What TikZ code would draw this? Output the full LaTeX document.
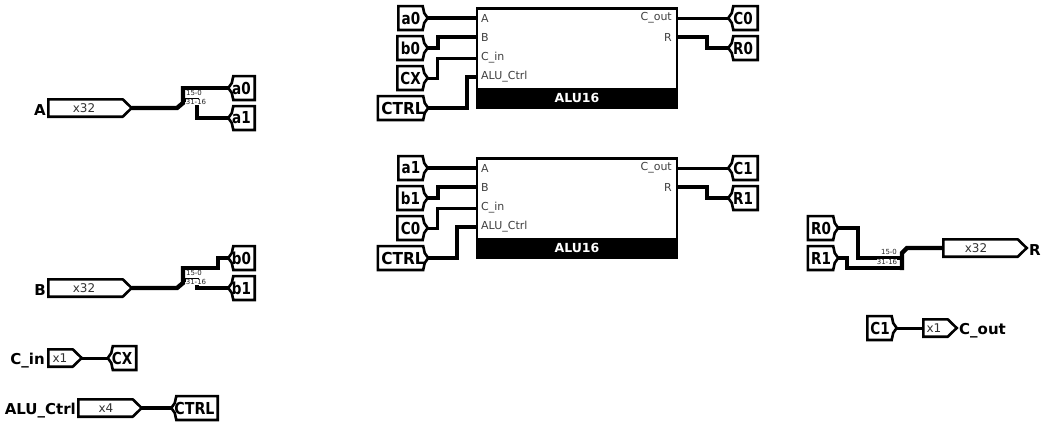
\documentclass[tikz,border=0pt]{standalone}
\usepackage{fontspec}
\setmainfont{DejaVu Sans}
\tikzset{
  x=1pt,y=1pt,
  outline/.style={draw=black,line width=2.6pt,line join=miter,fill=white},
  pinright/.style={append after command={\pgfextra{\draw[outline] (\tikzlastnode.north west) -- ([xshift=-#1]\tikzlastnode.north east) -- (\tikzlastnode.east) -- ([xshift=-#1]\tikzlastnode.south east) -- (\tikzlastnode.south west) -- cycle;}}},
  tunnelright/.style={append after command={\pgfextra{\draw[outline] (\tikzlastnode.north west) -- ([xshift=-5pt]\tikzlastnode.north east) -- ([xshift=-3.5pt,yshift=5pt]\tikzlastnode.east) -- (\tikzlastnode.east) -- ([xshift=-3.5pt,yshift=-5pt]\tikzlastnode.east) -- ([xshift=-5pt]\tikzlastnode.south east) -- (\tikzlastnode.south west) -- cycle;}}},
  tunnelleft/.style={append after command={\pgfextra{\draw[outline] (\tikzlastnode.north east) -- ([xshift=5pt]\tikzlastnode.north west) -- ([xshift=3.5pt,yshift=5pt]\tikzlastnode.west) -- (\tikzlastnode.west) -- ([xshift=3.5pt,yshift=-5pt]\tikzlastnode.west) -- ([xshift=5pt]\tikzlastnode.south west) -- (\tikzlastnode.south east) -- cycle;}}},
  ltag/.style={tunnelleft,minimum height=23.5pt},
  rtag/.style={tunnelright,minimum height=23.5pt},
  pinshape/.style={pinright=9pt,minimum height=17pt},
  tagtext/.style={inner sep=0pt,font=\fontsize{16.5}{16}\bfseries},
  rtagtext/.style={tagtext,xshift=-2pt},
  wordtext/.style={inner sep=0pt,font=\fontsize{16.5}{16}\bfseries},
  pintext/.style={inner sep=0pt,font=\fontsize{12}{12}\selectfont,text=black!80},
  pinname/.style={inner sep=0pt,font=\fontsize{15}{15}\bfseries},
  alubox/.style={draw=black,line width=2.6pt,fill=white,minimum width=200pt,minimum height=99pt,inner sep=0pt},
  aluband/.style={fill=black,text=white,minimum width=201.5pt,minimum height=20pt,inner sep=0pt,font=\fontsize{12.5}{12}\bfseries},
  portl/.style={anchor=west,inner sep=0pt,font=\fontsize{11}{11}\selectfont,text=black!75},
  portr/.style={anchor=east,inner sep=0pt,font=\fontsize{11}{11}\selectfont,text=black!75},
  splitlab/.style={inner sep=0.2pt,fill=white,font=\fontsize{7}{7}\selectfont,text=black!85},
  thick wire/.style={draw=black,line width=4.4pt,line join=miter},
  thin wire/.style={draw=black,line width=3pt,line join=miter},
}
\newcommand{\nar}[1]{\scalebox{.82}[1]{#1}}
\newcommand{\wid}[1]{\scalebox{.93}[1]{#1}}
\newcommand{\tg}[6]{\node[#1,minimum width=#3] (#4) at #5 {}; \node[#2] at (#4) {#6};}
\begin{document}
\begin{tikzpicture}
\useasboundingbox (0,0) rectangle (1045,-426);

% ALU 0
\node[alubox] (u0) at (577,-58) {};
\node[aluband] (u0b) at (577,-98) {ALU16};
\node[portl] (u0A) at (481,-18) {A};
\node[portl] (u0B) at (481,-37) {B};
\node[portl] (u0C) at (481,-58) {C\_in};
\node[portl] (u0D) at (481,-77) {ALU\_Ctrl};
\node[portr] (u0O) at (672,-18) {C\_out};
\node[portr] (u0R) at (672,-37) {R};
\coordinate (u0pA) at (476,-18);
\coordinate (u0pB) at (476,-37);
\coordinate (u0pC) at (476,-58);
\coordinate (u0pD) at (476,-77);
\coordinate (u0pO) at (677,-18);
\coordinate (u0pR) at (677,-37);

% ALU 1
\node[alubox] (u1) at (577,-208) {};
\node[aluband] (u1b) at (577,-248) {ALU16};
\node[portl] (u1A) at (481,-168) {A};
\node[portl] (u1B) at (481,-187) {B};
\node[portl] (u1C) at (481,-208) {C\_in};
\node[portl] (u1D) at (481,-227) {ALU\_Ctrl};
\node[portr] (u1O) at (672,-168) {C\_out};
\node[portr] (u1R) at (672,-187) {R};
\coordinate (u1pA) at (476,-168);
\coordinate (u1pB) at (476,-187);
\coordinate (u1pC) at (476,-208);
\coordinate (u1pD) at (476,-227);
\coordinate (u1pO) at (677,-168);
\coordinate (u1pR) at (677,-187);

% tags on ALU inputs
\tg{rtag}{rtagtext}{29pt}{ta0}{(413,-18)}{\nar{a0}}
\tg{rtag}{rtagtext}{30pt}{tb0}{(412.5,-48)}{\nar{b0}}
\tg{rtag}{rtagtext}{30pt}{tcx}{(412.5,-78)}{\nar{CX}}
\tg{rtag}{wordtext}{50pt}{tct0}{(403,-108)}{\wid{CTRL}}
\tg{rtag}{rtagtext}{29pt}{ta1}{(413,-168)}{\nar{a1}}
\tg{rtag}{rtagtext}{30pt}{tb1}{(412.5,-198)}{\nar{b1}}
\tg{rtag}{rtagtext}{30pt}{tc0}{(412.5,-228)}{\nar{C0}}
\tg{rtag}{wordtext}{50pt}{tct1}{(403,-258)}{\wid{CTRL}}
% tags on ALU outputs
\tg{ltag}{tagtext}{29pt}{oc0}{(743,-18)}{\nar{C0}}
\tg{ltag}{tagtext}{29pt}{or0}{(743,-48)}{\nar{R0}}
\tg{ltag}{tagtext}{29pt}{oc1}{(743,-168)}{\nar{C1}}
\tg{ltag}{tagtext}{29pt}{or1}{(743,-198)}{\nar{R1}}

% A group
\node[pinshape,minimum width=83pt] (pA) at (90,-108) {};
\node[pintext] at (84,-108) {x32};
\node[pinname,anchor=east] (lA) at (46,-110) {A};
\tg{ltag}{tagtext}{26pt}{sa0}{(241.5,-88)}{\nar{a0}}
\tg{ltag}{tagtext}{26pt}{sa1}{(241.5,-118)}{\nar{a1}}
% B group
\node[pinshape,minimum width=83pt] (pB) at (90,-288) {};
\node[pintext] at (84,-288) {x32};
\node[pinname,anchor=east] (lB) at (46,-290) {B};
\tg{ltag}{tagtext}{26pt}{sb0}{(241.5,-258)}{\nar{b0}}
\tg{ltag}{tagtext}{26pt}{sb1}{(241.5,-288)}{\nar{b1}}
% C_in
\node[pinshape,minimum width=33pt] (pC) at (65,-358) {};
\node[pintext] at (60,-358) {x1};
\node[pinname,anchor=east] (lC) at (45,-361) {C\_in};
\tg{ltag}{tagtext}{28pt}{sx}{(122,-358)}{\nar{CX}}
% ALU_Ctrl
\node[pinshape,minimum width=63pt] (pD) at (110,-408) {};
\node[pintext] at (106,-408) {x4};
\node[pinname,anchor=east] (lD) at (76,-411) {ALU\_Ctrl};
\tg{ltag}{wordtext}{46pt}{sc}{(194.5,-408)}{\scalebox{.86}[1]{CTRL}}
% R group
\tg{rtag}{rtagtext}{30pt}{r0}{(823,-228)}{\nar{R0}}
\tg{rtag}{rtagtext}{30pt}{r1}{(823,-258)}{\nar{R1}}
\node[pinshape,minimum width=83pt] (pR) at (985,-248) {};
\node[pintext] at (976,-248) {x32};
\node[pinname,anchor=west] (lR) at (1029,-250) {R};
% C_out
\tg{rtag}{rtagtext}{29pt}{c1}{(882,-328)}{\nar{C1}}
\node[pinshape,minimum width=33pt] (pO) at (940,-328) {};
\node[pintext] at (934,-328) {x1};
\node[pinname,anchor=west] (lO) at (959,-331) {C\_out};

% wires ALU 0
\draw[thick wire] (ta0.east) -- (u0pA);
\draw[thick wire] (tb0.east) -- ++(10,0) |- (u0pB);
\draw[thin wire] (tcx.east) -- ++(10,0) |- (u0pC);
\draw[thick wire] (tct0.east) -- (467,-108) |- (u0pD);
\draw[thin wire] (u0pO) -- (oc0.west);
\draw[thick wire] (u0pR) -- (707,-37) |- (or0.west);
% wires ALU 1
\draw[thick wire] (ta1.east) -- (u1pA);
\draw[thick wire] (tb1.east) -- ++(10,0) |- (u1pB);
\draw[thin wire] (tc0.east) -- ++(10,0) |- (u1pC);
\draw[thick wire] (tct1.east) -- (457,-258) |- (u1pD);
\draw[thin wire] (u1pO) -- (oc1.west);
\draw[thick wire] (u1pR) -- (707,-187) |- (or1.west);

% splitter A
\coordinate (jA) at (183,-103);
\draw[thick wire] (pA.east) -- (177,-108) -- (jA) -- (183,-86);
\draw[thick wire] (181,-88) -- (sa0.west);
\draw[thick wire] (183,-100) -- (197,-100) |- (sa1.west);
\node[splitlab] at (194,-92.5) {15-0};
\node[splitlab] at (196,-102) {31-16};
% splitter B
\coordinate (jB) at (183,-283);
\draw[thick wire] (pB.east) -- (177,-288) -- (jB) -- (183,-266);
\draw[thick wire] (181,-268) -- (218,-268) |- (sb0.west);
\draw[thick wire] (183,-280) -- (197,-280) |- (sb1.west);
\node[splitlab] at (194,-272.5) {15-0};
\node[splitlab] at (196,-282) {31-16};
% splitter R
\coordinate (jR) at (902,-253);
\draw[thick wire] (r0.east) -- (858,-228) |- (902,-258);
\draw[thick wire] (r1.east) -- (847,-258) |- (904,-268);
\draw[thick wire] (902,-270) -- (jR) -- (907,-248) -- (pR.west);
\node[splitlab] at (889,-252) {15-0};
\node[splitlab] at (887,-262) {31-16};
% single wires
\draw[thin wire] (pC.east) -- (sx.west);
\draw[thick wire] (pD.east) -- (sc.west);
\draw[thin wire] (c1.east) -- (pO.west);
\end{tikzpicture}
\end{document}
